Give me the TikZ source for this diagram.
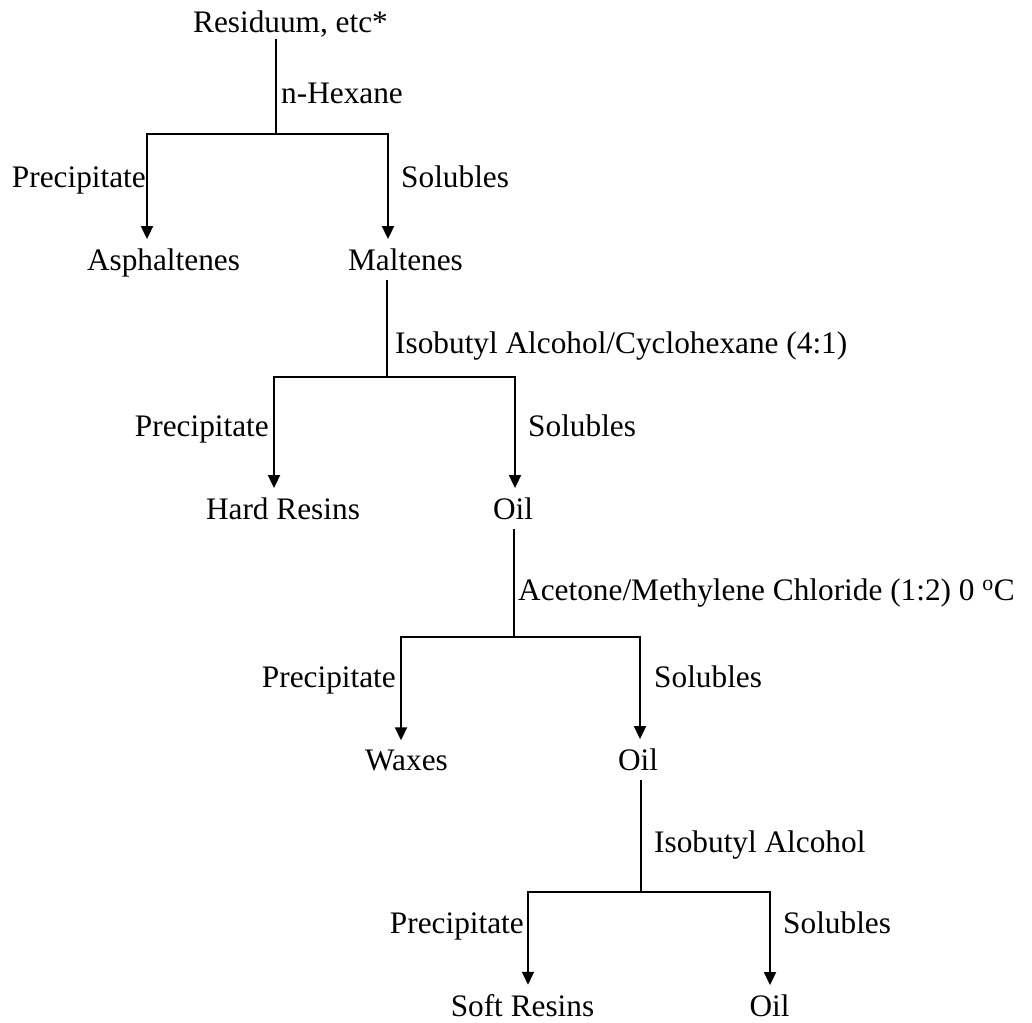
\documentclass[tikz,border=0pt]{standalone}
\usepackage{fontspec}
\setmainfont{Liberation Serif}
\usetikzlibrary{arrows.meta}
\begin{document}
\begin{tikzpicture}[x=1pt,y=-1pt,
  every node/.style={font=\fontsize{31.3}{36}\selectfont, inner xsep=0pt},
  prod/.style={anchor=base, inner ysep=9pt},
  src/.style={anchor=base, inner ysep=0.5pt},
  lbll/.style={inner ysep=0pt, anchor=base east},
  lblr/.style={inner ysep=0pt, anchor=base west},
  link/.style={line width=1.8pt},
  arr/.style={link, -{Triangle[width=12pt,length=13pt]}}]
\useasboundingbox (0,0) rectangle (1032,1022);

% ---- stage 1: n-hexane
\node[src]  (res)  at (290.5,33) {Residuum, etc*};
\node[lblr] (c1)   at (281,104)  {n-Hexane};
\node[lbll] (p1)   at (146,187)  {Precipitate};
\node[lblr] (q1)   at (401,187)  {Solubles};
\node[prod] (asph) at (163.5,270) {Asphaltenes};
\node[prod] (malt) at (405.5,270) {Maltenes};
\coordinate (s1)  at (276,134);
\coordinate (s1l) at (147,134);
\coordinate (s1r) at (388,134);
\draw[link] (res.south -| s1) -- (s1);
\draw[arr] (s1) -| (s1l |- asph.north);
\draw[arr] (s1) -| (s1r |- malt.north);

% ---- stage 2: isobutyl alcohol / cyclohexane
\node[lblr] (c2)   at (395,353)  {Isobutyl Alcohol/Cyclohexane (4:1)};
\node[lbll] (p2)   at (269,436)  {Precipitate};
\node[lblr] (q2)   at (528,436)  {Solubles};
\node[prod] (hard) at (283,519)  {Hard Resins};
\node[prod] (oil2) at (513,519)  {Oil};
\coordinate (s2)  at (387,377);
\coordinate (s2l) at (274,377);
\coordinate (s2r) at (515,377);
\draw[link] (malt.south -| s2) -- (s2);
\draw[arr] (s2) -| (s2l |- hard.north);
\draw[arr] (s2) -| (s2r |- oil2.north);

% ---- stage 3: acetone / methylene chloride
\node[lblr] (c3)   at (518,600)  {Acetone/Methylene Chloride (1:2) 0 \textsuperscript{o}C};
\node[lbll] (p3)   at (396,687)  {Precipitate};
\node[lblr] (q3)   at (654,687)  {Solubles};
\node[prod] (wax)  at (406.5,770) {Waxes};
\node[prod] (oil3) at (638,770)  {Oil};
\coordinate (s3)  at (514,637);
\coordinate (s3l) at (401,637);
\coordinate (s3r) at (640,637);
\draw[link] (oil2.south -| s3) -- (s3);
\draw[arr] (s3) -| (s3l |- wax.north);
\draw[arr] (s3) -| (s3r |- oil3.north);

% ---- stage 4: isobutyl alcohol
\node[lblr] (c4)   at (654,852)  {Isobutyl Alcohol};
\node[lbll] (p4)   at (524,933)  {Precipitate};
\node[lblr] (q4)   at (783,933)  {Solubles};
\node[prod] (soft) at (522.5,1016) {Soft Resins};
\node[prod] (oil4) at (769.5,1016) {Oil};
\coordinate (s4)  at (641,892);
\coordinate (s4l) at (528,892);
\coordinate (s4r) at (770,892);
\draw[link] (oil3.south -| s4) -- (s4);
\draw[arr] (s4) -| (s4l |- soft.north);
\draw[arr] (s4) -| (s4r |- oil4.north);
\end{tikzpicture}
\end{document}
